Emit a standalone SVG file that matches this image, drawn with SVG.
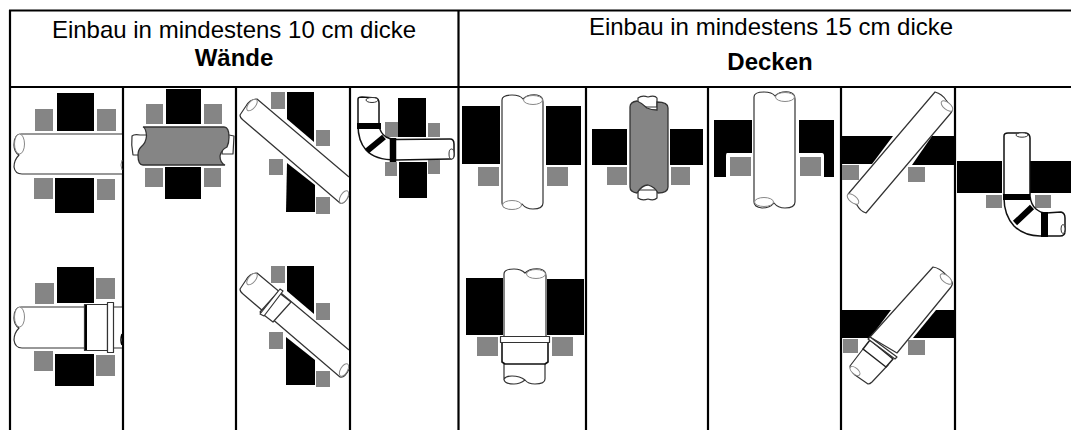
<svg xmlns="http://www.w3.org/2000/svg" width="1071" height="430" viewBox="0 0 1071 430">
<style>
.h{font-family:"Liberation Sans",Arial,sans-serif;font-size:24px;fill:#000;text-anchor:middle}
.b{font-weight:bold}
.k{fill:#000}
.g{fill:#858585}
.p{fill:#fff;stroke:#333;stroke-width:1.2;stroke-linejoin:round}
.e{fill:#fff;stroke:#888;stroke-width:1}
.d{fill:#858585;stroke:#333;stroke-width:1.3}
.l{stroke:#000;stroke-width:2.2;fill:none}
.t{stroke:#000;fill:none}
</style>
<rect width="1071" height="430" fill="#fff"/>
<g id="grid">
<path class="l" d="M10,10V430M458.500,10V430M123,87V430M236,87V430M350,87V430M586,87V430M708,87V430M841,87V430M955,87V430"/>
<path class="l" d="M9,10.500H1071M9,87H1071"/>
</g>
<g id="header">
<text class="h" x="234" y="38">Einbau in mindestens 10 cm dicke</text>
<text class="h b" x="234" y="66">Wände</text>
<text class="h" x="771" y="35">Einbau in mindestens 15 cm dicke</text>
<text class="h b" x="770" y="70">Decken</text>
</g>
<g id="wall-1">
<rect class="k" x="57" y="93" width="37" height="38"/><rect class="g" x="35" y="109" width="18" height="22"/><rect class="g" x="97" y="109" width="19" height="22"/>
<rect class="k" x="55" y="178" width="39" height="35"/><rect class="g" x="34" y="178" width="19" height="21"/><rect class="g" x="97" y="179" width="18" height="21"/>
<path class="p" d="M122,134H21Q14,134 14,145Q14,152 19,155Q14,160 14,167Q15,174 22,174H122"/>
<ellipse class="e" cx="19.500" cy="144" rx="5" ry="10"/>
<path class="e" d="M122,160Q120,165 122,170"/>
</g>
<g id="wall-2">
<rect class="k" x="166" y="89" width="35" height="35"/><rect class="g" x="146" y="104" width="17" height="20"/><rect class="g" x="204" y="104" width="18" height="20"/>
<rect class="k" x="165" y="167" width="36" height="32"/><rect class="g" x="145" y="168" width="18" height="19"/><rect class="g" x="204" y="168" width="17" height="19"/>
<path class="p" d="M132,136Q134,134 140,135L147,135V155H133Q131,145 132,136Z"/>
<path class="p" d="M224,134L234,136L233,154H222Z"/>
<path class="d" d="M143,127H224Q229,127 229,137Q229,143 227,147Q221,150 220,156Q220,163 225,165H143Q138,165 138,155Q138,150 141,147Q146,143 146.500,136Q146,128 143,127Z"/>
</g>
<g id="wall-3">
<rect class="g" x="271" y="92" width="14" height="17"/><rect class="g" x="316" y="130" width="14" height="16"/><rect class="g" x="269" y="159" width="14" height="16"/><rect class="g" x="316" y="197" width="14" height="17"/>
<polygon class="k" points="287,92 314,92 314,142 287,119"/><polygon class="k" points="287,163 315,185 315,212 286,212"/>
<path class="p" d="M349,177L257,99Q250,99 246,106L240,115Q240,118 243,120L340,203Q345,204 349,195"/>
<ellipse class="e" cx="252" cy="105" rx="3.500" ry="7" transform="rotate(40 252 105)"/>
<ellipse class="e" cx="344" cy="197" rx="3.500" ry="7" transform="rotate(30 344 197)"/>
</g>
<g id="wall-4">
<rect class="k" x="398" y="98" width="28" height="39"/><rect class="g" x="385" y="122" width="13" height="15"/><rect class="g" x="428" y="123" width="12" height="14"/>
<rect class="k" x="399" y="162" width="28" height="36"/><rect class="g" x="385" y="162" width="12" height="14"/><rect class="g" x="428" y="160" width="12" height="14"/>
<path class="p" style="stroke:#111;stroke-width:1.500" d="M358,99Q358,97 362,97L376,98Q379,99 379,103V125Q380,133 386,137Q392,140 396,139.500L450,139Q454,139 454,144V155Q454,159 450,159L396,160Q375,160 366,150Q358,141 358,125Z"/>
<ellipse class="e" style="stroke:#333" cx="372" cy="100" rx="6" ry="2.500"/>
<ellipse class="e" style="stroke:#333" cx="451.500" cy="154" rx="2.500" ry="5"/>
<path class="t" stroke-width="6" d="M357,126H381M367,151L384,137"/>
<path class="t" stroke-width="6.500" d="M393,138V162"/>
</g>
<g id="wall-5">
<rect class="k" x="57" y="267" width="37" height="36"/><rect class="g" x="35" y="283" width="19" height="21"/><rect class="g" x="96" y="278" width="19" height="21"/>
<rect class="k" x="55" y="354" width="39" height="32"/><rect class="g" x="34" y="351" width="19" height="20"/><rect class="g" x="96" y="355" width="19" height="21"/>
<path class="p" d="M122,307H21Q14,307 14,318Q14,325 19,328Q14,333 14,340Q15,348 22,348H122"/>
<ellipse class="e" cx="19.500" cy="317" rx="5" ry="10"/>
<rect class="p" x="84.500" y="304.500" width="23" height="46"/>
<path class="t" stroke="#333" stroke-width="2" d="M86,305V350"/>
<rect class="p" x="107.500" y="302.500" width="6" height="50"/>
<path class="t" stroke="#222" stroke-width="1.500" d="M122,334Q120,340 122,345"/>
</g>
<g id="wall-6">
<rect class="g" x="271" y="266" width="14" height="17"/><rect class="g" x="316" y="303" width="14" height="17"/><rect class="g" x="269" y="332" width="14" height="17"/><rect class="g" x="316" y="371" width="14" height="16"/>
<polygon class="k" points="287,266 314,266 314,314 287,291"/><polygon class="k" points="286,337 315,360 315,385 286,385"/>
<path class="p" d="M349,350L257,273Q250,273 246,280L240,289Q240,292 243,294L340,377Q345,378 349,369"/>
<ellipse class="e" cx="252" cy="279" rx="3.500" ry="7" transform="rotate(40 252 279)"/>
<ellipse class="e" cx="344" cy="370" rx="3.500" ry="7" transform="rotate(30 344 370)"/>
<polygon class="p" points="278,292 291,302 273,322 260,312"/>
<polygon class="p" points="280,289 283,291 264,316 260,314"/>
</g>
<g id="floor-1">
<rect class="k" x="462" y="106" width="38" height="58"/><rect class="k" x="546" y="106" width="35" height="59"/>
<rect class="g" x="478" y="167" width="21" height="19"/><rect class="g" x="547" y="167" width="21" height="19"/>
<path class="p" d="M502,100Q502,95 512,95Q520,95 523,99Q528,94 537,95Q543,96 543,102V203Q543,209 533,209Q526,209 522,204Q518,209 510,209Q502,208 502,203Z"/>
<ellipse class="e" cx="533" cy="100" rx="9.500" ry="4.500"/>
<ellipse class="e" cx="512" cy="205" rx="9.500" ry="4.500"/>
</g>
<g id="floor-2">
<rect class="k" x="592" y="129" width="35" height="36"/><rect class="k" x="670" y="129" width="33" height="36"/>
<rect class="g" x="607" y="167" width="20" height="18"/><rect class="g" x="671" y="167" width="19" height="18"/>
<path class="p" d="M638,98Q642,95 648,97Q655,95 657,98V107H638Z"/>
<path class="p" d="M638,190H657V198Q654,201 648,199Q642,201 638,198Z"/>
<path class="d" d="M630,107Q630,102 637,101Q642,103 647,108Q651,110 657,110V102Q668,102 668,108V187Q668,193 658,193Q655,187 648,185Q642,185 637,193Q630,192 630,187Z"/>
</g>
<g id="floor-3">
<path class="k" d="M714,120H752V153H727Q726,153 726,156V177H714Z"/>
<path class="k" d="M799,120H834V177H824V156Q824,153 822,153H799Z"/>
<rect class="g" x="730" y="157" width="21" height="19"/><rect class="g" x="800" y="157" width="21" height="19"/>
<path class="p" d="M754,97Q754,92 764,92Q772,92 775,96Q780,91 789,92Q795,93 795,99V202Q795,208 785,208Q778,208 774,203Q770,208 762,208Q754,207 754,202Z"/>
<ellipse class="e" cx="785" cy="97" rx="9.500" ry="4.500"/>
<ellipse class="e" cx="764" cy="202" rx="9.500" ry="4.500"/>
</g>
<g id="floor-4">
<polygon class="k" points="842,136 893,136 872,164 842,164"/><polygon class="k" points="932,136 955,136 955,165 912,165"/>
<rect class="g" x="842" y="165" width="17" height="15"/><rect class="g" x="908" y="167" width="17" height="15"/>
<path class="p" d="M935,92Q942,94 946,100L952,108Q953,111 950,114L866,213Q860,211 857,205L849,198Q847,195 849,193Z"/>
<ellipse class="e" cx="947" cy="106" rx="3.500" ry="7" transform="rotate(-50 947 106)"/>
<ellipse class="e" cx="853" cy="199" rx="3.500" ry="7" transform="rotate(-50 853 199)"/>
</g>
<g id="floor-5">
<rect class="k" x="957" y="161" width="45" height="32"/><rect class="k" x="1030" y="161" width="41" height="32"/>
<rect class="g" x="986" y="195" width="16" height="13"/><rect class="g" x="1035" y="195" width="16" height="13"/>
<path class="p" style="stroke:#111;stroke-width:1.500" d="M1004,136Q1004,133 1008,133L1026,133Q1030,134 1030,138V196Q1031,205 1036,209Q1041,213 1046,213L1061,212Q1065,213 1065,218V231Q1065,236 1060,236L1040,236Q1024,236 1014,226Q1004,215 1004,198Z"/>
<ellipse class="e" style="stroke:#333" cx="1022" cy="135" rx="6" ry="2.200"/>
<ellipse class="e" style="stroke:#333" cx="1063" cy="229" rx="2" ry="4.500"/>
<path class="t" stroke-width="6" d="M1003,197H1030M1015,223L1032,207"/>
<path class="t" stroke-width="7" d="M1044.500,212V237"/>
</g>
<g id="floor-6">
<rect class="k" x="466" y="278" width="37" height="57"/><rect class="k" x="547" y="279" width="37" height="56"/>
<rect class="g" x="477" y="337" width="21" height="19"/><rect class="g" x="552" y="337" width="21" height="19"/>
<path class="p" d="M504,274Q504,269 514,269Q521,269 525,273Q530,268 540,269Q546,270 546,276V337H504Z"/>
<path class="p" d="M504,362H545V379Q545,384 535,384Q528,384 525,380Q520,376 512,376Q506,376 504,379Z"/>
<path class="p" d="M504,379Q504,384 514,384Q520,384 525,380"/>
<ellipse class="e" cx="536" cy="274" rx="9.500" ry="4.500"/>
<path class="p" style="stroke:#111;stroke-width:1.600" d="M502,342H548V362L545,364H505L502,362Z"/>
<rect class="p" x="500.500" y="336.500" width="49" height="6"/>
</g>
<g id="floor-7">
<polygon class="k" points="842,310 891,310 870,338 842,338"/><polygon class="k" points="936,310 954,310 954,338 913,338"/>
<rect class="g" x="843" y="339" width="15" height="14"/><rect class="g" x="908" y="340" width="17" height="15"/>
<path class="p" d="M933,267Q940,268 946,275L952,282Q953,284 951,287L897,353L870,337Z"/>
<ellipse class="e" cx="946" cy="279" rx="3.500" ry="7" transform="rotate(-50 946 279)"/>
<path class="p" d="M863,349L850,366Q850,370 855,375L868,384Q870,384 872,382L888,365Z"/>
<ellipse class="e" cx="855" cy="371" rx="3" ry="6" transform="rotate(-50 855 371)"/>
<polygon class="p" style="stroke:#222;stroke-width:1.500" points="870,340 893,359 886,367 863,349"/>
<polygon class="p" points="870,337 897,357 895,359 868,339"/>
</g>
</svg>
